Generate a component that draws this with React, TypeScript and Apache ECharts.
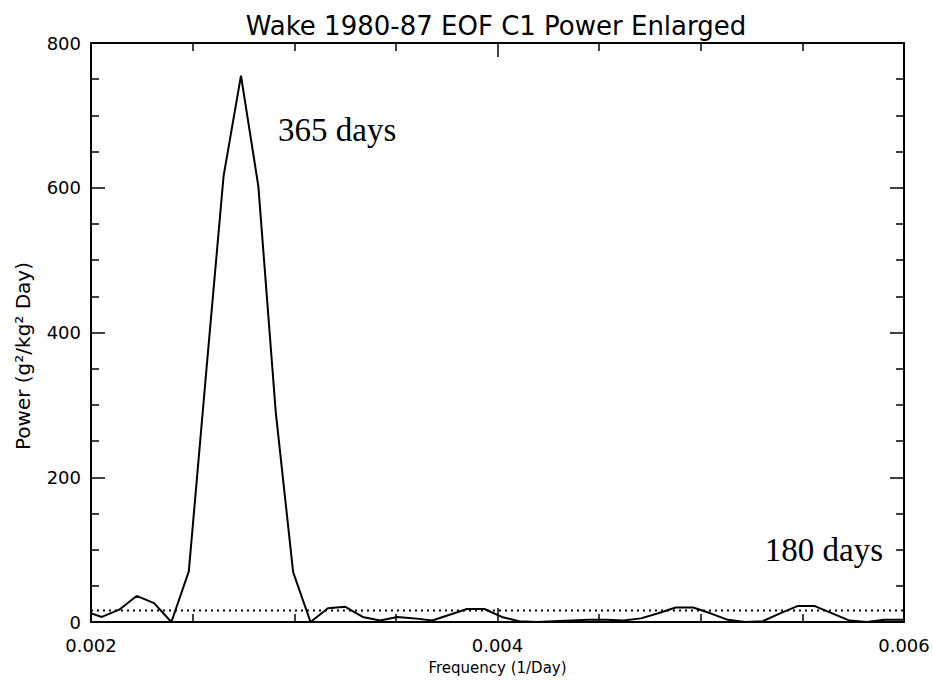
import React, { useEffect, useRef } from "react";
import * as echarts from "echarts";

// Frequency grid (1/Day) of the spectral estimate
const frequency = [
  0.0019678, 0.0020534, 0.0021389, 0.0022245, 0.0023101, 0.0023956, 0.0024812,
  0.0025667, 0.0026523, 0.0027379, 0.0028234, 0.002909, 0.0029945, 0.0030801,
  0.0031656, 0.0032512, 0.0033368, 0.0034223, 0.0035079, 0.0035934, 0.003679,
  0.0037645, 0.0038501, 0.0039357, 0.0040212, 0.0041068, 0.0041923, 0.0042779,
  0.0043634, 0.004449, 0.0045346, 0.0046201, 0.0047057, 0.0047912, 0.0048768,
  0.0049624, 0.0050479, 0.0051335, 0.005219, 0.0053046, 0.0053901, 0.0054757,
  0.0055613, 0.0056468, 0.0057324, 0.0058179, 0.0059035, 0.005989, 0.0060746,
];

// Power (g²/kg² Day)
const power = [
  15, 7, 17, 36, 26, 0, 70,
  345, 616, 755, 602, 290, 69, 0,
  19, 21, 7, 2, 7, 5, 2,
  10, 18, 18, 7, 1, 0, 1,
  2, 3, 3, 2, 5, 12, 20,
  20, 12, 3, 0, 1, 12, 22,
  22, 12, 2, 0, 3, 3, 4,
];

const noiseLevel = [16, 16];
const noiseFreq = [0.002, 0.006];

const xTickLabels = ["0.002", "0.004", "0.006"];
const yTickLabels = ["0", "200", "400", "600", "800"];

const titleText = "Wake 1980-87 EOF C1 Power Enlarged";
const xName = "Frequency (1/Day)";
const yName = "Power (g²/kg² Day)";
const annotations = [
  { text: "365 days", freq: 0.00292, value: 680 },
  { text: "180 days", freq: 0.005315, value: 99 },
];

export default function App() {
  const ref = useRef<HTMLDivElement>(null);

  useEffect(() => {
    const chart = echarts.init(ref.current!, null, { renderer: "svg" });
    const font = "DejaVu Sans";
    const axisLine = { show: true, onZero: false, lineStyle: { color: "#000", width: 2 } };
    const tick = { show: true, inside: true, length: 14, lineStyle: { color: "#000", width: 1.5 } };
    const minor = { show: true, splitNumber: 4, length: 8, lineStyle: { color: "#000", width: 1.5 } };

    const xBase = {
      type: "value",
      min: 0.002,
      max: 0.006,
      interval: 0.002,
      axisLine,
      axisTick: tick,
      minorTick: minor,
      splitLine: { show: false },
      minorSplitLine: { show: false },
    };
    const yBase = {
      type: "value",
      min: 0,
      max: 800,
      interval: 200,
      axisLine,
      axisTick: tick,
      minorTick: minor,
      splitLine: { show: false },
      minorSplitLine: { show: false },
    };

    const grid = { left: 91, right: 29, top: 43, bottom: 60 };
    const plotW = 933 - grid.left - grid.right;
    const plotH = 682 - grid.top - grid.bottom;
    const px = (f: number) => grid.left + ((f - 0.002) / 0.004) * plotW;
    const py = (v: number) => grid.top + (1 - v / 800) * plotH;

    chart.setOption({
      animation: false,
      backgroundColor: "#fff",
      grid: { ...grid, containLabel: false },
      xAxis: [
        {
          ...xBase,
          position: "bottom",
          name: xName,
          nameLocation: "middle",
          nameGap: 38,
          nameTextStyle: { color: "#000", fontSize: 15, fontFamily: font },
          axisLabel: {
            color: "#000",
            fontSize: 18,
            fontFamily: font,
            margin: 14,
            showMinLabel: true,
            showMaxLabel: true,
            formatter: (v: number) => {
              const idx = Math.round((v - 0.002) / 0.002);
              return xTickLabels[idx] ?? "";
            },
          },
        },
        { ...xBase, position: "top", axisLabel: { show: false } },
      ],
      yAxis: [
        {
          ...yBase,
          position: "left",
          axisLabel: {
            color: "#000",
            fontSize: 18,
            fontFamily: font,
            margin: 10,
            formatter: (v: number) => yTickLabels[Math.round(v / 200)] ?? "",
          },
        },
        { ...yBase, position: "right", axisLabel: { show: false } },
      ],
      series: [
        {
          type: "line",
          data: frequency.map((f, i) => [f, power[i]]),
          symbol: "none",
          clip: true,
          lineStyle: { color: "#000", width: 2 },
        },
        {
          type: "line",
          data: noiseFreq.map((f, i) => [f, noiseLevel[i]]),
          symbol: "none",
          clip: true,
          lineStyle: { color: "#000", width: 2, type: [2, 4] },
        },
      ],
      graphic: [
        {
          type: "text",
          x: 496,
          y: 26,
          style: {
            text: titleText,
            fill: "#000",
            fontSize: 26,
            fontFamily: font,
            align: "center",
            verticalAlign: "middle",
          },
        },
        {
          type: "text",
          x: 23,
          y: 356,
          rotation: Math.PI / 2,
          style: {
            text: yName,
            fill: "#000",
            fontSize: 20,
            fontFamily: font,
            align: "center",
            verticalAlign: "middle",
          },
        },
        ...annotations.map((a) => ({
          type: "text",
          x: px(a.freq),
          y: py(a.value),
          style: {
            text: a.text,
            fill: "#000",
            fontSize: 33,
            fontFamily: "Liberation Serif",
            align: "left",
            verticalAlign: "middle",
          },
        })),
      ],
    });
    return () => chart.dispose();
  }, []);

  return (
    <div
      ref={ref}
      style={{ position: "fixed", left: 0, top: 0, width: 933, height: 682, background: "#fff" }}
    />
  );
}
